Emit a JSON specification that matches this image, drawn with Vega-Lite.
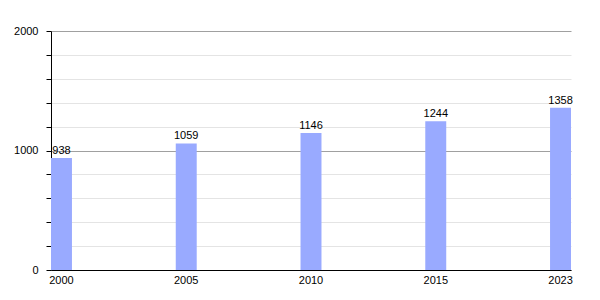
{
  "$schema": "https://vega.github.io/schema/vega-lite/v6.json",
  "width": 520,
  "height": 239,
  "autosize": "none",
  "padding": {"left": 51, "top": 31, "right": 29, "bottom": 30},
  "background": "white",
  "config": {
    "view": {"stroke": null},
    "font": "Liberation Sans",
    "axis": {"labelFont": "Liberation Sans", "labelFontSize": 11, "labelColor": "#000"}
  },
  "data": {
    "values": [
      {"year": "2000", "pop": 938},
      {"year": "2005", "pop": 1059},
      {"year": "2010", "pop": 1146},
      {"year": "2015", "pop": 1244},
      {"year": "2023", "pop": 1358}
    ]
  },
  "encoding": {
    "x": {
      "field": "year",
      "type": "ordinal",
      "scale": {"paddingInner": 0.832, "paddingOuter": 0},
      "axis": {
        "title": null,
        "labelAngle": 0,
        "ticks": false,
        "domainColor": "#000",
        "domainWidth": 1,
        "labelPadding": 4
      }
    },
    "y": {
      "field": "pop",
      "type": "quantitative",
      "scale": {"domain": [0, 2000], "nice": false},
      "axis": {
        "title": null,
        "values": [0, 200, 400, 600, 800, 1000, 1200, 1400, 1600, 1800, 2000],
        "labelExpr": "datum.value % 1000 === 0 ? datum.value : ''",
        "grid": true,
        "gridColor": {"condition": {"test": "datum.value % 1000 === 0", "value": "#a0a0a0"}, "value": "#e4e4e4"},
        "domainColor": "#000",
        "tickColor": "#000",
        "tickSize": 5,
        "labelPadding": 8
      }
    }
  },
  "layer": [
    {"mark": {"type": "bar", "color": "#99aaff"}},
    {
      "mark": {"type": "text", "baseline": "bottom", "dy": -2, "fontSize": 11, "color": "#000"},
      "encoding": {"text": {"field": "pop", "type": "quantitative"}}
    }
  ]
}
